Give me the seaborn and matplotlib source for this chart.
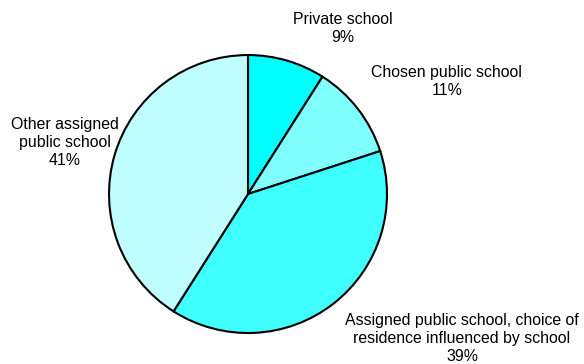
import matplotlib
matplotlib.use("Agg")
import matplotlib.pyplot as plt
import seaborn as sns

# School choice shares
categories = [
    "Private school",
    "Chosen public school",
    "Assigned public school, choice of\nresidence influenced by school",
    "Other assigned\npublic school",
]
shares = [9, 11, 39, 41]
colors = ["#00FFFF", "#80FFFF", "#40FFFF", "#C0FFFF"]

# Label anchor points (data units, pie radius = 1)
label_pos = [(0.68, 1.19), (1.43, 0.81), (1.54, -1.04), (-1.32, 0.37)]

sns.set_theme(style="white")
plt.rcParams["font.family"] = ["Liberation Sans", "DejaVu Sans"]

fig = plt.figure(figsize=(5.84, 3.64), dpi=100)
ax = fig.add_axes([0, 0, 1, 1])

wedges, texts = ax.pie(
    shares,
    colors=colors,
    startangle=90,
    counterclock=False,
    radius=1.0,
    labels=[f"{c}\n{v}%" for c, v in zip(categories, shares)],
    labeldistance=1.2,
    wedgeprops=dict(edgecolor="black", linewidth=1.5),
    textprops=dict(fontsize=11.4, color="black", ha="center", va="center",
                   linespacing=1.25),
)
for t, (x, y) in zip(texts, label_pos):
    t.set_position((x, y))
    t.set_horizontalalignment("center")
    t.set_verticalalignment("center")
    t.set_multialignment("center")

ax.set_xlim(-1.784, 2.417)
ax.set_ylim(-1.223, 1.396)
ax.set_aspect("equal")
ax.axis("off")

fig.savefig("out.png", dpi=100)
